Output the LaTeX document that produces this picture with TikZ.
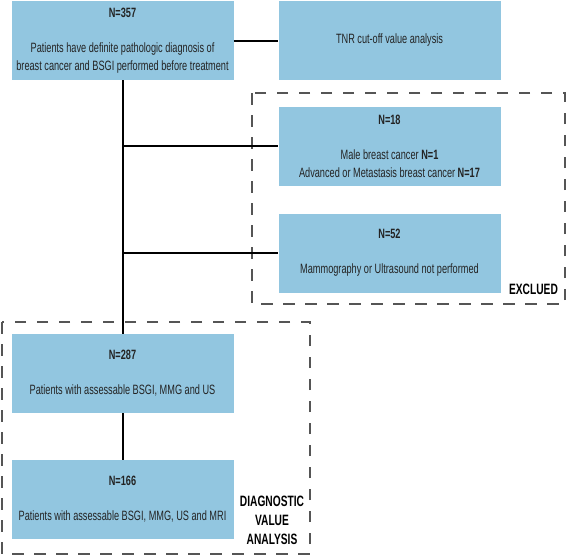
\documentclass[tikz,border=0pt]{standalone}
\usepackage{fontspec}
\setmainfont{Liberation Sans}[FakeStretch=0.68]
\definecolor{boxblue}{RGB}{146,198,224}
\definecolor{framegray}{RGB}{85,85,85}
\definecolor{inkgray}{RGB}{35,35,35}
\newcommand{\cnt}[1]{\textbf{N=#1}}

\begin{document}
\begin{tikzpicture}[x=1pt,y=-1pt,
    box/.style={fill=boxblue,minimum width=222pt,minimum height=79pt,inner sep=0pt,
      align=center,text=inkgray,font=\fontsize{13.5}{18}\selectfont},
    link/.style={line width=2pt},
    group/.style={draw=framegray,line width=2.5pt,dash pattern=on 11.5pt off 10.5pt},
    tag/.style={font=\fontsize{15}{19}\selectfont\bfseries,align=center}]
    \useasboundingbox (0,0) rectangle (567,557);
    \draw[group] (252,93) rectangle (565,304);
    \draw[group] (2,322) rectangle (310,554);
    \node[box] (P) at (122.5,40.5) {\cnt{357}\\[17pt]Patients have definite pathologic diagnosis of\\breast cancer and BSGI performed before treatment};
    \node[box] (TNR) at (389.5,40.5) {TNR cut-off value analysis};
    \node[box] (X18) at (389.5,146) {\cnt{18}\\[17pt]Male breast cancer \cnt{1}\\Advanced or Metastasis breast cancer \cnt{17}};
    \node[box] (X52) at (389.5,253) {\cnt{52}\\[17pt]Mammography or Ultrasound not performed};
    \node[box] (A287) at (122.5,373.5) {\cnt{287}\\[17pt]Patients with assessable BSGI, MMG and US};
    \node[box] (A166) at (122.5,499.5) {\cnt{166}\\[17pt]Patients with assessable BSGI, MMG, US and MRI};
    \node[tag] (EX) at (533.5,289) {EXCLUED};
    \node[tag] (DV) at (272,520) {DIAGNOSTIC\\VALUE\\ANALYSIS};
    \coordinate (J1) at (122.5,146);
    \coordinate (J2) at (122.5,253);
    \path[link] (P) edge (TNR);
    \path[link] (P) edge (A287);
    \path[link] (J1) edge (X18);
    \path[link] (J2) edge (X52);
    \path[link] (A287) edge (A166);
  \end{tikzpicture}
\end{document}
